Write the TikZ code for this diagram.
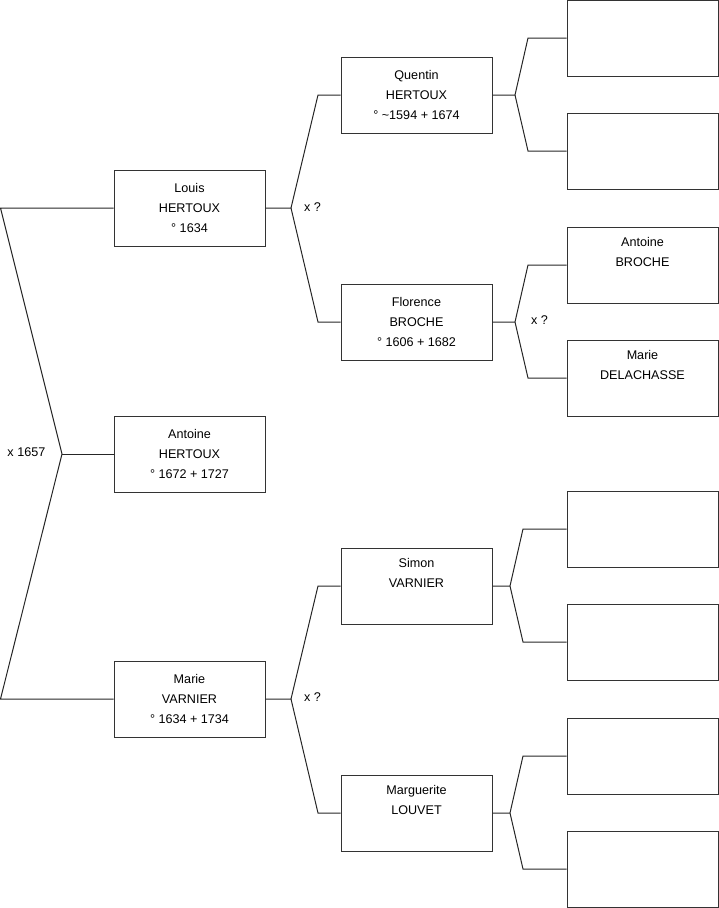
\documentclass[tikz,border=0pt]{standalone}
\usepackage{fontspec}
\setmainfont{Liberation Sans}
\begin{document}
\begin{tikzpicture}[x=1pt,y=-1pt,
  box/.style={draw=black!80, line width=1pt, minimum width=151pt, minimum height=76pt, inner sep=0pt, align=center, font=\fontsize{12.6}{20.4}\selectfont},
  wire/.style={line width=1pt, draw=black!85},
  lbl/.style={inner sep=0pt, font=\fontsize{12.6}{14}\selectfont}]
\useasboundingbox (0,0) rectangle (719,908);
% generation 1
\node[box] (louis) at (189.5,208) {Louis\\HERTOUX\\° 1634};
\node[box] (antoine) at (189.5,454) {Antoine\\HERTOUX\\° 1672 + 1727};
\node[box] (marie) at (189.5,699) {Marie\\VARNIER\\° 1634 + 1734};
% generation 2
\node[box] (quentin) at (416.5,95) {Quentin\\HERTOUX\\° \textasciitilde1594 + 1674};
\node[box] (florence) at (416.5,322) {Florence\\BROCHE\\° 1606 + 1682};
\node[box] (simon) at (416.5,586) {Simon\\VARNIER\\\strut};
\node[box] (marguerite) at (416.5,813) {Marguerite\\LOUVET\\\strut};
% generation 3
\node[box] (q1) at (642.5,38) {};
\node[box] (q2) at (642.5,151) {};
\node[box] (f1) at (642.5,265) {Antoine\\BROCHE\\\strut};
\node[box] (f2) at (642.5,378) {Marie\\DELACHASSE\\\strut};
\node[box] (s1) at (642.5,529) {};
\node[box] (s2) at (642.5,642) {};
\node[box] (g1) at (642.5,756) {};
\node[box] (g2) at (642.5,869) {};
% junction coordinates
\coordinate (r0) at (0.5,208); \coordinate (r1) at (62,454); \coordinate (r2) at (0.5,699);
\coordinate (lj) at (291,208); \coordinate (lq) at (318,95); \coordinate (lf) at (318,322);
\coordinate (mj) at (291,699); \coordinate (ms) at (318,586); \coordinate (mm) at (318,813);
\coordinate (qj) at (515,95); \coordinate (qa) at (528,38); \coordinate (qb) at (528,151);
\coordinate (fj) at (515,322); \coordinate (fa) at (528,265); \coordinate (fb) at (528,378);
\coordinate (sj) at (510,586); \coordinate (sa) at (523,529); \coordinate (sb) at (523,642);
\coordinate (gj) at (510,813); \coordinate (ga) at (523,756); \coordinate (gb) at (523,869);
% connectors
\draw[wire] (louis.west) -- (r0) -- (r1) -- (r2) -- (marie.west);
\draw[wire] (r1) -- (antoine.west);
\draw[wire] (louis.east) -- (lj) -- (lq) -- (quentin.west);
\draw[wire] (lj) -- (lf) -- (florence.west);
\draw[wire] (marie.east) -- (mj) -- (ms) -- (simon.west);
\draw[wire] (mj) -- (mm) -- (marguerite.west);
\draw[wire] (quentin.east) -- (qj) -- (qa) -- (q1.west);
\draw[wire] (qj) -- (qb) -- (q2.west);
\draw[wire] (florence.east) -- (fj) -- (fa) -- (f1.west);
\draw[wire] (fj) -- (fb) -- (f2.west);
\draw[wire] (simon.east) -- (sj) -- (sa) -- (s1.west);
\draw[wire] (sj) -- (sb) -- (s2.west);
\draw[wire] (marguerite.east) -- (gj) -- (ga) -- (g1.west);
\draw[wire] (gj) -- (gb) -- (g2.west);
% marriage labels
\node[lbl, anchor=east] (m1) at (45.5,452) {x 1657};
\node[lbl, anchor=west] (m2) at (304,207) {x ?};
\node[lbl, anchor=west] (m3) at (531,320) {x ?};
\node[lbl, anchor=west] (m4) at (304,697) {x ?};
\end{tikzpicture}
\end{document}
